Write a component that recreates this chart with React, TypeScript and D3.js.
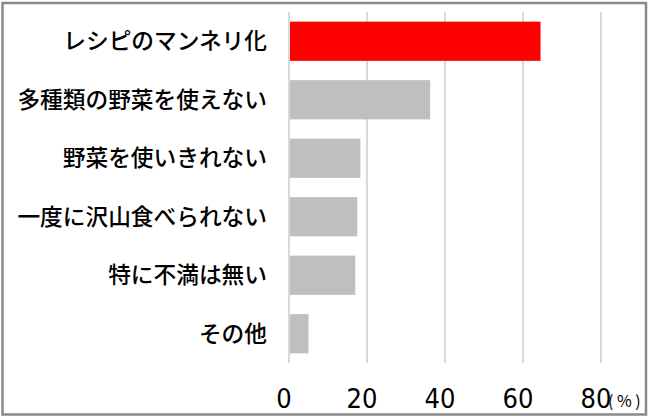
import * as d3 from "d3";

const categories = [
  "レシピのマンネリ化",
  "多種類の野菜を使えない",
  "野菜を使いきれない",
  "一度に沢山食べられない",
  "特に不満は無い",
  "その他",
];
const values = [64.5, 36.2, 18.3, 17.5, 17.0, 5.0];
const highlight = [true, false, false, false, false, false];
const ticks = [0, 20, 40, 60, 80];

export default function App() {
  const width = 650;
  const height = 419;
  const margin = { top: 12, right: 49, bottom: 56, left: 289 };

  const x = d3.scaleLinear([0, 80], [margin.left, width - margin.right]);
  const y = d3
    .scaleBand(categories, [margin.top, height - margin.bottom])
    .paddingInner(0.33)
    .paddingOuter(0.165);

  return (
    <svg
      width={width}
      height={height}
      style={{ position: "absolute", left: 0, top: 0, background: "#fff" }}
    >
      <rect x={0} y={0} width={width} height={height} fill="#fff" />
      <g stroke="#d9d9d9" strokeWidth={2}>
        {ticks.map((t) => (
          <line key={t} x1={x(t)} x2={x(t)} y1={margin.top} y2={height - margin.bottom} />
        ))}
      </g>
      <g>
        {categories.map((c, i) => (
          <rect
            key={c}
            x={x(0) + 1}
            y={y(c)}
            width={x(values[i]) - x(0) - 1}
            height={y.bandwidth()}
            fill={highlight[i] ? "#ff0000" : "#bfbfbf"}
          />
        ))}
      </g>
      <g
        fontFamily="'Noto Sans CJK JP', sans-serif"
        fontSize={22.7}
        fontWeight={500}
        fill="#000"
        textAnchor="end"
      >
        {categories.map((c) => (
          <text key={c} x={267} y={y(c)! + y.bandwidth() / 2} dy="0.36em">
            {c}
          </text>
        ))}
      </g>
      <g
        fontFamily="'Liberation Sans Narrow', 'DejaVu Sans Condensed', sans-serif"
        fontSize={27}
        fill="#000"
        textAnchor="middle"
      >
        {ticks.map((t) => (
          <text key={t} x={x(t) - 5} y={408}>
            {t}
          </text>
        ))}
      </g>
      <text
        x={608}
        y={407}
        fontFamily="'Noto Sans CJK JP', sans-serif"
        fontSize={16}
        letterSpacing={3.5}
        fill="#000"
      >
        (%)
      </text>
      <rect
        x={2.5}
        y={3}
        width={643.5}
        height={411.5}
        fill="none"
        stroke="#8a8a8a"
        strokeWidth={2.5}
      />
    </svg>
  );
}
